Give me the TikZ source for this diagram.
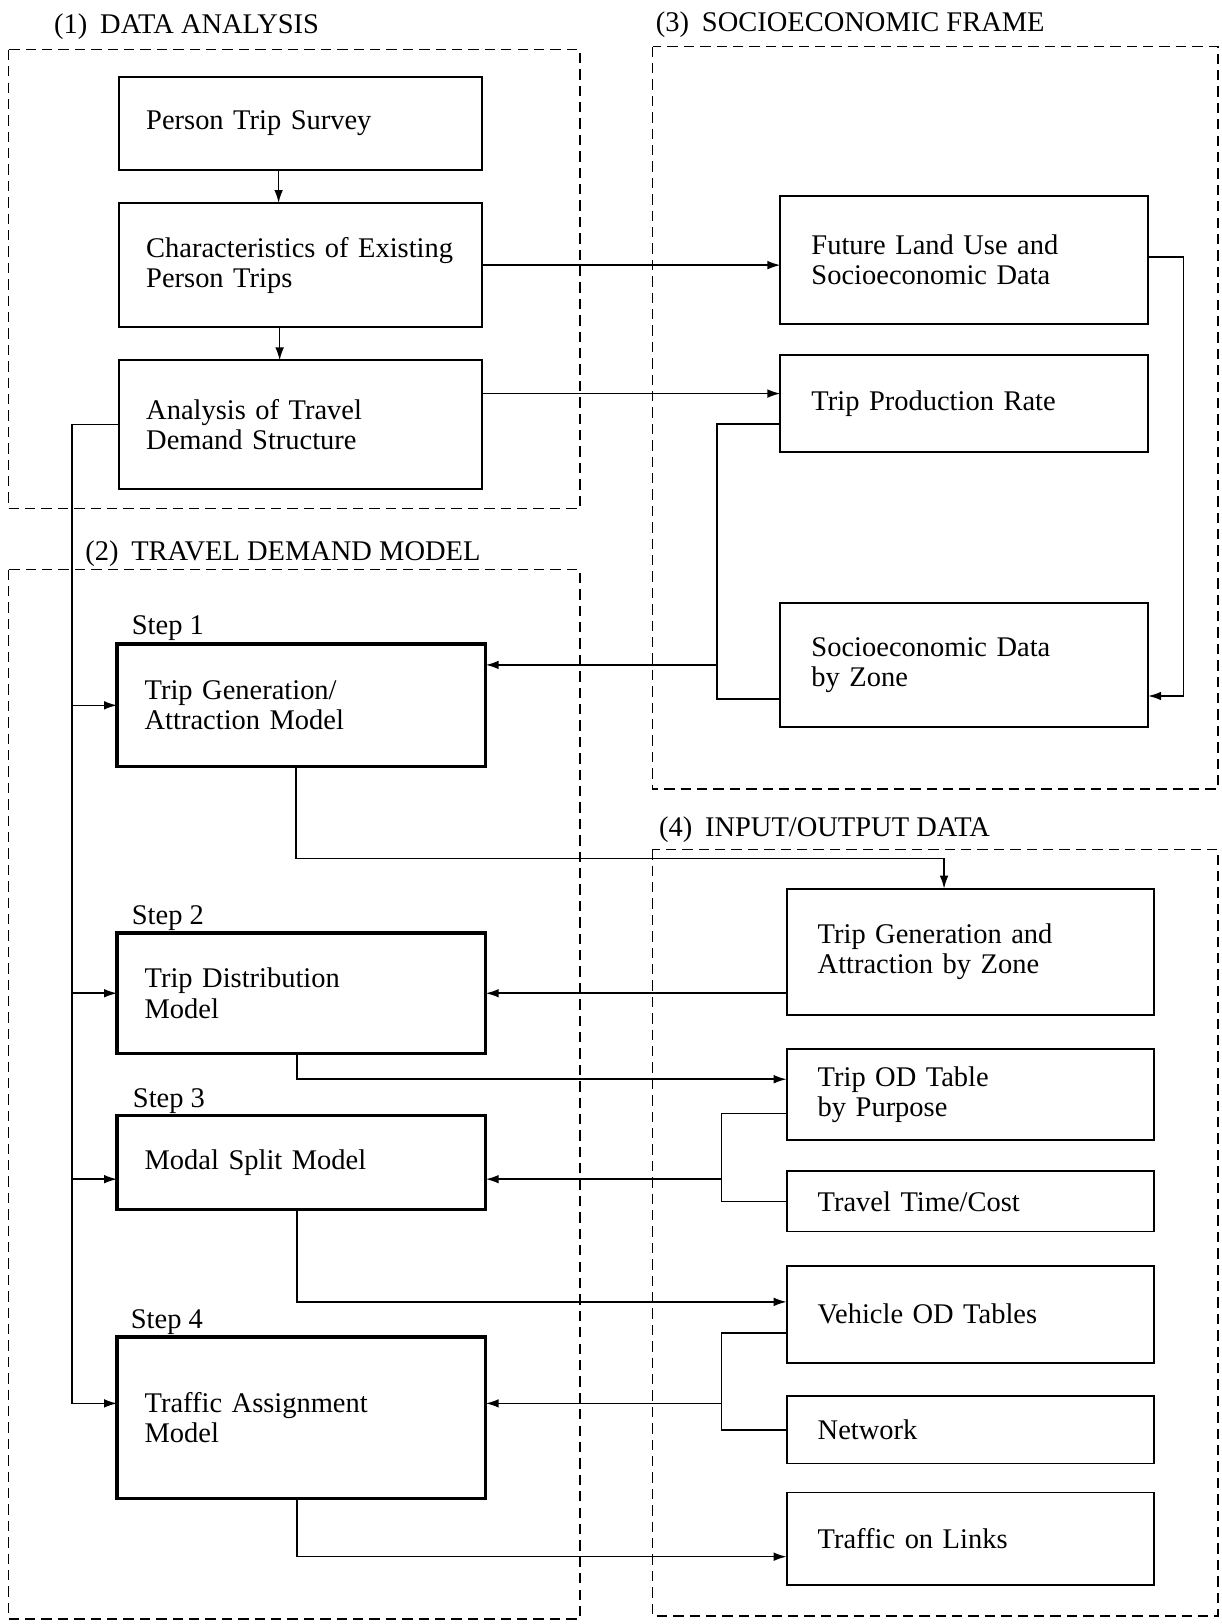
\documentclass[tikz,border=0pt]{standalone}
\usepackage{fontspec}
\setmainfont{Liberation Serif}
\usetikzlibrary{arrows.meta, positioning}

\begin{document}
\begin{tikzpicture}[
    x=0.6pt, y=-0.6pt,
    font=\fontsize{16.5}{17.4}\selectfont,
    lbox/.style={draw, line width=1.1pt, outer sep=0pt, inner xsep=16pt, inner ysep=0pt, text width=178.6pt, align=left},
    stepbox/.style={lbox, line width=2pt, text width=181.6pt},
    rbox/.style={lbox, inner xsep=18pt, text width=177pt},
    grouplbl/.style={anchor=base west, inner sep=0pt},
    steplbl/.style={anchor=base west, inner sep=0pt},
    frame/.style={dash pattern=on 6pt off 3.5pt, line width=0.9pt},
    conn/.style={line width=0.9pt},
    arr/.style={-{Latex[length=7.5pt,width=5pt]}, line width=0.9pt}
  ]
  \useasboundingbox (0,0) rectangle (1179,1568);

  % Group frames
  \draw[frame] (8,48) rectangle (560,491);
  \draw[frame] (8,550) rectangle (560,1563);
  \draw[frame] (630,45) rectangle (1176,762);
  \draw[frame] (630,820) rectangle (1176,1560);

  \node[grouplbl] (g1) at (52,32) {(1)\hspace{0.45em}DATA ANALYSIS};
  \node[grouplbl] (g2) at (82,541) {(2)\hspace{0.45em}TRAVEL DEMAND MODEL};
  \node[grouplbl] (g3) at (633,30) {(3)\hspace{0.45em}SOCIOECONOMIC FRAME};
  \node[grouplbl] (g4) at (636,808) {(4)\hspace{0.45em}INPUT/OUTPUT DATA};

  % (1) data analysis
  \node[lbox, minimum height=54pt] (pts) at (290,119) {Person Trip Survey};
  \node[lbox, minimum height=72pt, below=19.2pt of pts] (char) {Characteristics of Existing\\Person Trips};
  \node[lbox, minimum height=74.4pt, below=19.2pt of char] (ana) {Analysis of Travel\\Demand Structure};

  % (2) travel demand model
  \node[stepbox, minimum height=70.8pt] (tg) at (291,681) {Trip Generation/\\Attraction Model};
  \node[stepbox, minimum height=69.6pt, below=96.6pt of tg] (td) {Trip Distribution\\Model};
  \node[stepbox, minimum height=54.6pt, below=36pt of td] (ms) {Modal Split Model};
  \node[stepbox, minimum height=93.6pt, below=73.8pt of ms] (ta) {Traffic Assignment\\Model};

  \node[steplbl] (s1) at ([xshift=8.4pt,yshift=5.4pt]tg.north west) {Step 1};
  \node[steplbl] (s2) at ([xshift=8.4pt,yshift=5pt]td.north west) {Step 2};
  \node[steplbl] (s3) at ([xshift=9pt,yshift=4.4pt]ms.north west) {Step 3};
  \node[steplbl] (s4) at ([xshift=7.8pt,yshift=5pt]ta.north west) {Step 4};

  % (3) socioeconomic frame
  \node[rbox, minimum height=74.4pt] (flu) at (931,251) {Future Land Use and\\Socioeconomic Data};
  \node[rbox, minimum height=55.8pt, below=18pt of flu] (tpr) {Trip Production Rate};
  \node[rbox, minimum height=72pt, below=87.6pt of tpr] (sdz) {Socioeconomic Data\\by Zone};

  % (4) input/output data
  \node[rbox, minimum height=73.2pt] (tga) at (937,919) {Trip Generation and\\Attraction by Zone};
  \node[rbox, minimum height=52.8pt, below=19.8pt of tga] (tod) {Trip OD Table\\by Purpose};
  \node[rbox, minimum height=34.8pt, below=18pt of tod] (ttc) {Travel Time/Cost};
  \node[rbox, minimum height=56.4pt, below=19.8pt of ttc] (vod) {Vehicle OD Tables};
  \node[rbox, minimum height=39pt, below=19.2pt of vod] (net) {Network};
  \node[rbox, minimum height=53.4pt, below=16.8pt of net] (tol) {Traffic on Links};

  \coordinate (msl) at ([yshift=-9.6pt]ms.west);
  \coordinate (msr) at ([yshift=-9.6pt]ms.east);
  \coordinate (tal) at ([yshift=8.4pt]ta.west);
  \coordinate (tar) at ([yshift=8.4pt]ta.east);

  % Data analysis flow
  \draw[arr] ([xshift=-12.6pt]pts.south) -- ([xshift=-12.6pt]char.north);
  \draw[arr] ([xshift=-12pt]char.south) -- ([xshift=-12pt]ana.north);
  \draw[arr] (char.east) -- (char.east -| flu.west);
  \draw[arr] ([yshift=18pt]ana.east) -- ([yshift=18pt]ana.east -| tpr.west);

  % Left bus into the steps
  \draw[arr] (ana.west) -- ++(-27pt,0) coordinate (lb) |- (tal);
  \draw[arr] (lb |- tg.west) -- (tg.west);
  \draw[arr] (lb |- td.west) -- (td.west);
  \draw[arr] (lb |- msl) -- (msl);

  % Socioeconomic inputs
  \draw[conn] ([yshift=-12pt]tpr.west) -- ++(-36.6pt,0) coordinate (sb) |- ([yshift=-19.8pt]sdz.west);
  \draw[arr] (sb |- sdz.west) -- (sdz.west -| tg.east);
  \draw[arr] ([yshift=1.8pt]flu.east) -- ++(20.4pt,0) |- ([yshift=-18pt]sdz.east);

  % Step outputs and inputs
  \draw[arr] ([xshift=-3pt]tg.south) |- ([xshift=-15.3pt,yshift=17.4pt]tga.north) -- ([xshift=-15.3pt]tga.north);
  \draw[arr] (tga.west |- td.east) -- (td.east);
  \draw[arr] ([xshift=-2.4pt]td.south) |- ([yshift=9pt]tod.west);
  \draw[conn] ([yshift=-10.8pt]tod.west) -- ++(-37.8pt,0) coordinate (ob) |- (ttc.west);
  \draw[arr] (ob |- msr) -- (msr);
  \draw[arr] ([xshift=-2.4pt]ms.south) |- ([yshift=7.2pt]vod.west);
  \draw[conn] ([yshift=-10.8pt]vod.west) -- ++(-37.8pt,0) coordinate (vb) |- (net.west);
  \draw[arr] (vb |- tar) -- (tar);
  \draw[arr] ([xshift=-2.4pt]ta.south) |- ([yshift=-10.5pt]tol.west);

\end{tikzpicture}
\end{document}
